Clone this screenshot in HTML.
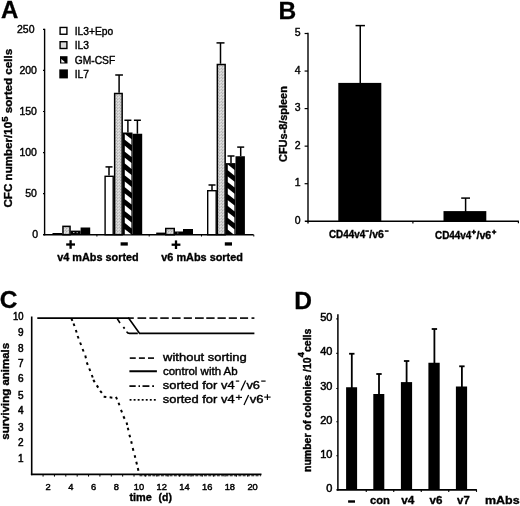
<!DOCTYPE html>
<html><head><meta charset="utf-8"><title>Figure</title>
<style>
html,body{margin:0;padding:0;background:#fff;}
body{width:520px;height:506px;overflow:hidden;font-family:"Liberation Sans",sans-serif;}
svg{display:block;filter:blur(0.4px);}
svg text{font-family:"Liberation Sans",sans-serif;fill:#000;}
</style></head><body>
<svg width="520" height="506" viewBox="0 0 520 506">
<defs>
<pattern id="dots" width="3" height="3" patternUnits="userSpaceOnUse">
<rect width="3" height="3" fill="#cfcfcf"/>
<rect width="1" height="1" fill="#b0b0b0"/>
<rect x="1" y="1" width="1" height="1" fill="#e4e4e4"/>
<rect x="2" y="2" width="1" height="1" fill="#b8b8b8"/>
<rect x="2" y="0" width="1" height="1" fill="#dcdcdc"/>
</pattern>
</defs>
<rect width="520" height="506" fill="#fff"/>
<g transform="translate(1.00,18.00) translate(0.00,0)" stroke="#000" stroke-width="0.3">
<text x="0.00" y="0" font-size="24" font-weight="bold" xml:space="preserve">A</text>
</g>
<line x1="44.60" y1="28.80" x2="44.60" y2="235.30" stroke="#000" stroke-width="1.4" />
<line x1="43.40" y1="234.70" x2="253.60" y2="234.70" stroke="#000" stroke-width="1.6" />
<line x1="43.00" y1="234.70" x2="44.60" y2="234.70" stroke="#000" stroke-width="1.2" />
<g transform="translate(38.00,238.00) translate(-5.84,0)" stroke="#000" stroke-width="0.4">
<text x="0.00" y="0" font-size="10.5" xml:space="preserve">0</text>
</g>
<line x1="43.00" y1="193.64" x2="44.60" y2="193.64" stroke="#000" stroke-width="1.2" />
<g transform="translate(36.90,196.94) translate(-11.68,0)" stroke="#000" stroke-width="0.4">
<text x="0.00" y="0" font-size="10.5" xml:space="preserve">50</text>
</g>
<line x1="43.00" y1="152.58" x2="44.60" y2="152.58" stroke="#000" stroke-width="1.2" />
<g transform="translate(36.90,155.88) translate(-17.52,0)" stroke="#000" stroke-width="0.4">
<text x="0.00" y="0" font-size="10.5" xml:space="preserve">100</text>
</g>
<line x1="43.00" y1="111.52" x2="44.60" y2="111.52" stroke="#000" stroke-width="1.2" />
<g transform="translate(36.90,114.82) translate(-17.52,0)" stroke="#000" stroke-width="0.4">
<text x="0.00" y="0" font-size="10.5" xml:space="preserve">150</text>
</g>
<line x1="43.00" y1="70.46" x2="44.60" y2="70.46" stroke="#000" stroke-width="1.2" />
<g transform="translate(36.90,73.76) translate(-17.52,0)" stroke="#000" stroke-width="0.4">
<text x="0.00" y="0" font-size="10.5" xml:space="preserve">200</text>
</g>
<line x1="43.00" y1="29.40" x2="44.60" y2="29.40" stroke="#000" stroke-width="1.2" />
<g transform="translate(34.50,32.70) translate(-17.52,0)" stroke="#000" stroke-width="0.4">
<text x="0.00" y="0" font-size="10.5" xml:space="preserve">250</text>
</g>
<line x1="96.90" y1="234.70" x2="96.90" y2="236.50" stroke="#000" stroke-width="1" />
<line x1="149.20" y1="234.70" x2="149.20" y2="236.50" stroke="#000" stroke-width="1" />
<line x1="201.50" y1="234.70" x2="201.50" y2="236.50" stroke="#000" stroke-width="1" />
<line x1="253.80" y1="234.70" x2="253.80" y2="236.50" stroke="#000" stroke-width="1" />
<g transform="translate(12.25,207.50) rotate(-90) translate(0.00,0) scale(1.0545,1)" stroke="#000" stroke-width="0.35">
<text x="0.00" y="0" font-size="11" font-weight="bold" xml:space="preserve">CFC number/10</text>
<text x="81.29" y="-4.5" font-size="9" font-weight="bold" xml:space="preserve">5</text>
<text x="86.30" y="0" font-size="11" font-weight="bold" xml:space="preserve"> sorted cells</text>
</g>
<rect x="60.10" y="27.45" width="6.80" height="6.80" fill="#fff" stroke="#000" stroke-width="1.4"/>
<g transform="translate(74.70,34.75) translate(0.00,0) scale(0.9350,1)" stroke="#000" stroke-width="0.4">
<text x="0.00" y="0" font-size="11" xml:space="preserve">IL3+Epo</text>
</g>
<rect x="60.10" y="41.70" width="6.80" height="6.80" fill="#dcdcdc" stroke="#000" stroke-width="1.4"/>
<g transform="translate(74.70,49.00) translate(0.00,0) scale(0.9350,1)" stroke="#000" stroke-width="0.4">
<text x="0.00" y="0" font-size="11" xml:space="preserve">IL3</text>
</g>
<rect x="60.00" y="56.20" width="7.50" height="7.30" fill="#000"/>
<polygon points="61.3,59.1 64.5,61.8 64.5,62.5 61.3,62.5" fill="#fff"/>
<g transform="translate(74.70,63.50) translate(0.00,0) scale(0.9350,1)" stroke="#000" stroke-width="0.4">
<text x="0.00" y="0" font-size="11" xml:space="preserve">GM-CSF</text>
</g>
<rect x="59.30" y="69.40" width="8.60" height="9.00" fill="#000"/>
<g transform="translate(74.70,77.90) translate(0.00,0) scale(0.9350,1)" stroke="#000" stroke-width="0.4">
<text x="0.00" y="0" font-size="11" xml:space="preserve">IL7</text>
</g>
<rect x="52.50" y="233.00" width="9.50" height="1.70" fill="#000"/>
<rect x="62.95" y="226.35" width="7.10" height="8.35" fill="url(#dots)" stroke="#000" stroke-width="1.5"/>
<rect x="70.60" y="230.60" width="10.00" height="4.10" fill="#000"/>
<rect x="73.00" y="232.00" width="1.50" height="1.00" fill="#aaa"/>
<rect x="76.50" y="232.30" width="1.50" height="0.80" fill="#bbb"/>
<rect x="80.60" y="227.50" width="9.60" height="7.20" fill="#000"/>
<line x1="109.00" y1="166.90" x2="109.00" y2="175.60" stroke="#000" stroke-width="1.5" />
<line x1="105.50" y1="166.90" x2="112.50" y2="166.90" stroke="#000" stroke-width="1.5" />
<rect x="105.10" y="176.30" width="8.10" height="58.40" fill="#fff" stroke="#000" stroke-width="1.4"/>
<line x1="119.10" y1="75.00" x2="119.10" y2="92.75" stroke="#000" stroke-width="1.5" />
<line x1="115.25" y1="75.00" x2="122.95" y2="75.00" stroke="#000" stroke-width="1.5" />
<rect x="114.65" y="93.50" width="7.50" height="141.20" fill="url(#dots)" stroke="#000" stroke-width="1.5"/>
<line x1="127.90" y1="120.25" x2="127.90" y2="132.50" stroke="#000" stroke-width="1.5" />
<line x1="124.40" y1="120.25" x2="131.40" y2="120.25" stroke="#000" stroke-width="1.5" />
<rect x="122.75" y="132.50" width="9.75" height="102.20" fill="#000"/>
<clipPath id="c1"><rect x="124.55" y="133.50" width="7.05" height="100.70"/></clipPath>
<g clip-path="url(#c1)" fill="#fff">
<polygon points="124.55,133.70 131.60,139.30 131.60,145.10 124.55,139.50"/>
<polygon points="124.55,145.60 131.60,151.20 131.60,157.00 124.55,151.40"/>
<polygon points="124.55,157.50 131.60,163.10 131.60,168.90 124.55,163.30"/>
<polygon points="124.55,169.40 131.60,175.00 131.60,180.80 124.55,175.20"/>
<polygon points="124.55,181.30 131.60,186.90 131.60,192.70 124.55,187.10"/>
<polygon points="124.55,193.20 131.60,198.80 131.60,204.60 124.55,199.00"/>
<polygon points="124.55,205.10 131.60,210.70 131.60,216.50 124.55,210.90"/>
<polygon points="124.55,217.00 131.60,222.60 131.60,228.40 124.55,222.80"/>
<polygon points="124.55,228.90 131.60,234.50 131.60,240.30 124.55,234.70"/>
</g>
<line x1="137.40" y1="120.25" x2="137.40" y2="133.75" stroke="#000" stroke-width="1.5" />
<line x1="133.90" y1="120.25" x2="140.90" y2="120.25" stroke="#000" stroke-width="1.5" />
<rect x="132.50" y="133.75" width="9.70" height="100.95" fill="#000"/>
<rect x="156.20" y="232.60" width="9.00" height="2.10" fill="#000"/>
<rect x="165.75" y="228.50" width="8.50" height="6.20" fill="url(#dots)" stroke="#000" stroke-width="1.5"/>
<rect x="175.00" y="231.50" width="8.00" height="3.20" fill="#000"/>
<rect x="177.00" y="232.60" width="1.50" height="0.80" fill="#aaa"/>
<rect x="183.00" y="229.00" width="10.00" height="5.70" fill="#000"/>
<line x1="212.00" y1="185.00" x2="212.00" y2="190.00" stroke="#000" stroke-width="1.5" />
<line x1="208.50" y1="185.00" x2="215.50" y2="185.00" stroke="#000" stroke-width="1.5" />
<rect x="207.70" y="190.70" width="8.50" height="44.00" fill="#fff" stroke="#000" stroke-width="1.4"/>
<line x1="220.50" y1="42.90" x2="220.50" y2="63.75" stroke="#000" stroke-width="1.5" />
<line x1="216.50" y1="42.90" x2="224.50" y2="42.90" stroke="#000" stroke-width="1.5" />
<rect x="217.35" y="64.50" width="7.80" height="170.20" fill="url(#dots)" stroke="#000" stroke-width="1.5"/>
<line x1="231.00" y1="156.00" x2="231.00" y2="163.10" stroke="#000" stroke-width="1.5" />
<line x1="227.50" y1="156.00" x2="234.50" y2="156.00" stroke="#000" stroke-width="1.5" />
<rect x="225.75" y="163.10" width="9.75" height="71.60" fill="#000"/>
<clipPath id="c2"><rect x="227.55" y="164.10" width="7.05" height="70.10"/></clipPath>
<g clip-path="url(#c2)" fill="#fff">
<polygon points="227.55,164.30 234.60,169.90 234.60,175.70 227.55,170.10"/>
<polygon points="227.55,176.20 234.60,181.80 234.60,187.60 227.55,182.00"/>
<polygon points="227.55,188.10 234.60,193.70 234.60,199.50 227.55,193.90"/>
<polygon points="227.55,200.00 234.60,205.60 234.60,211.40 227.55,205.80"/>
<polygon points="227.55,211.90 234.60,217.50 234.60,223.30 227.55,217.70"/>
<polygon points="227.55,223.80 234.60,229.40 234.60,235.20 227.55,229.60"/>
</g>
<line x1="240.70" y1="147.10" x2="240.70" y2="156.25" stroke="#000" stroke-width="1.5" />
<line x1="237.20" y1="147.10" x2="244.20" y2="147.10" stroke="#000" stroke-width="1.5" />
<rect x="235.50" y="156.25" width="9.40" height="78.45" fill="#000"/>
<line x1="66.20" y1="244.50" x2="75.00" y2="244.50" stroke="#000" stroke-width="2.3" />
<line x1="70.60" y1="240.20" x2="70.60" y2="248.80" stroke="#000" stroke-width="2.3" />
<line x1="171.60" y1="244.70" x2="180.40" y2="244.70" stroke="#000" stroke-width="2.3" />
<line x1="176.00" y1="240.40" x2="176.00" y2="249.00" stroke="#000" stroke-width="2.3" />
<rect x="120.60" y="242.30" width="7.20" height="3.30" fill="#000"/>
<rect x="224.80" y="242.30" width="7.20" height="3.30" fill="#000"/>
<g transform="translate(57.25,260.60) translate(0.00,0) scale(0.9876,1)" stroke="#000" stroke-width="0.35">
<text x="0.00" y="0" font-size="11" font-weight="bold" xml:space="preserve">v4 mAbs sorted</text>
</g>
<g transform="translate(161.25,260.60) translate(0.00,0) scale(0.9906,1)" stroke="#000" stroke-width="0.35">
<text x="0.00" y="0" font-size="11" font-weight="bold" xml:space="preserve">v6 mAbs sorted</text>
</g>
<g transform="translate(278.50,19.00) translate(0.00,0)" stroke="#000" stroke-width="0.3">
<text x="0.00" y="0" font-size="24.5" font-weight="bold" xml:space="preserve">B</text>
</g>
<line x1="308.00" y1="32.80" x2="308.00" y2="223.45" stroke="#000" stroke-width="1.4" />
<line x1="304.80" y1="221.25" x2="518.90" y2="221.25" stroke="#000" stroke-width="1.5" />
<g transform="translate(300.50,223.85) translate(-5.84,0)" stroke="#000" stroke-width="0.4">
<text x="0.00" y="0" font-size="10.5" xml:space="preserve">0</text>
</g>
<line x1="304.60" y1="183.70" x2="308.00" y2="183.70" stroke="#000" stroke-width="1.2" />
<g transform="translate(300.50,186.30) translate(-5.84,0)" stroke="#000" stroke-width="0.4">
<text x="0.00" y="0" font-size="10.5" xml:space="preserve">1</text>
</g>
<line x1="304.60" y1="146.15" x2="308.00" y2="146.15" stroke="#000" stroke-width="1.2" />
<g transform="translate(300.50,148.75) translate(-5.84,0)" stroke="#000" stroke-width="0.4">
<text x="0.00" y="0" font-size="10.5" xml:space="preserve">2</text>
</g>
<line x1="304.60" y1="108.60" x2="308.00" y2="108.60" stroke="#000" stroke-width="1.2" />
<g transform="translate(300.50,111.20) translate(-5.84,0)" stroke="#000" stroke-width="0.4">
<text x="0.00" y="0" font-size="10.5" xml:space="preserve">3</text>
</g>
<line x1="304.60" y1="71.05" x2="308.00" y2="71.05" stroke="#000" stroke-width="1.2" />
<g transform="translate(300.50,73.65) translate(-5.84,0)" stroke="#000" stroke-width="0.4">
<text x="0.00" y="0" font-size="10.5" xml:space="preserve">4</text>
</g>
<line x1="304.60" y1="33.50" x2="308.00" y2="33.50" stroke="#000" stroke-width="1.2" />
<g transform="translate(300.50,36.10) translate(-5.84,0)" stroke="#000" stroke-width="0.4">
<text x="0.00" y="0" font-size="10.5" xml:space="preserve">5</text>
</g>
<line x1="412.90" y1="221.25" x2="412.90" y2="223.55" stroke="#000" stroke-width="1.2" />
<line x1="518.40" y1="221.25" x2="518.40" y2="223.25" stroke="#000" stroke-width="1.2" />
<g transform="translate(287.30,161.90) rotate(-90) translate(0.00,0) scale(1.0698,1)" stroke="#000" stroke-width="0.35">
<text x="0.00" y="0" font-size="10.2" font-weight="bold" xml:space="preserve">CFUs-8/spleen</text>
</g>
<line x1="360.25" y1="25.60" x2="360.25" y2="84.00" stroke="#000" stroke-width="1.5" />
<line x1="355.55" y1="25.60" x2="364.95" y2="25.60" stroke="#000" stroke-width="1.5" />
<rect x="338.30" y="82.90" width="43.00" height="138.35" fill="#000"/>
<line x1="465.60" y1="198.10" x2="465.60" y2="212.00" stroke="#000" stroke-width="1.5" />
<line x1="461.20" y1="198.10" x2="470.00" y2="198.10" stroke="#000" stroke-width="1.5" />
<rect x="443.50" y="211.10" width="42.80" height="10.15" fill="#000"/>
<g transform="translate(329.00,238.20) translate(0.00,0) scale(0.9579,1)" stroke="#000" stroke-width="0.35">
<text x="0.00" y="0" font-size="10.3" font-weight="bold" xml:space="preserve">CD44v4</text>
</g>
<rect x="365.30" y="230.30" width="3.60" height="1.50" fill="#000"/>
<g transform="translate(369.30,238.20) translate(0.00,0) scale(1.0197,1)" stroke="#000" stroke-width="0.35">
<text x="0.00" y="0" font-size="10.3" font-weight="bold" xml:space="preserve">/v6</text>
</g>
<rect x="384.80" y="230.30" width="3.80" height="1.50" fill="#000"/>
<g transform="translate(435.00,238.50) translate(0.00,0) scale(0.9632,1)" stroke="#000" stroke-width="0.35">
<text x="0.00" y="0" font-size="10.3" font-weight="bold" xml:space="preserve">CD44v4</text>
</g>
<line x1="471.60" y1="232.00" x2="476.00" y2="232.00" stroke="#000" stroke-width="1.5" />
<line x1="473.80" y1="229.80" x2="473.80" y2="234.20" stroke="#000" stroke-width="1.5" />
<g transform="translate(476.50,238.50) translate(0.00,0) scale(1.0336,1)" stroke="#000" stroke-width="0.35">
<text x="0.00" y="0" font-size="10.3" font-weight="bold" xml:space="preserve">/v6</text>
</g>
<line x1="491.90" y1="232.00" x2="496.30" y2="232.00" stroke="#000" stroke-width="1.5" />
<line x1="494.10" y1="229.80" x2="494.10" y2="234.20" stroke="#000" stroke-width="1.5" />
<g transform="translate(-0.20,308.40) translate(0.00,0)" stroke="#000" stroke-width="0.3">
<text x="0.00" y="0" font-size="24.5" font-weight="bold" xml:space="preserve">C</text>
</g>
<line x1="31.70" y1="316.50" x2="31.70" y2="475.20" stroke="#000" stroke-width="1.6" />
<line x1="30.90" y1="474.40" x2="261.50" y2="474.40" stroke="#000" stroke-width="1.8" />
<g transform="translate(23.50,320.20) translate(-10.57,0) scale(0.9500,1)" stroke="#000" stroke-width="0.5">
<text x="0.00" y="0" font-size="10" xml:space="preserve">10</text>
</g>
<g transform="translate(23.50,335.60) translate(-5.56,0)" stroke="#000" stroke-width="0.5">
<text x="0.00" y="0" font-size="10" xml:space="preserve">9</text>
</g>
<g transform="translate(23.50,351.90) translate(-5.56,0)" stroke="#000" stroke-width="0.5">
<text x="0.00" y="0" font-size="10" xml:space="preserve">8</text>
</g>
<g transform="translate(23.50,367.20) translate(-5.56,0)" stroke="#000" stroke-width="0.5">
<text x="0.00" y="0" font-size="10" xml:space="preserve">7</text>
</g>
<g transform="translate(23.50,381.90) translate(-5.56,0)" stroke="#000" stroke-width="0.5">
<text x="0.00" y="0" font-size="10" xml:space="preserve">6</text>
</g>
<g transform="translate(23.50,399.00) translate(-5.56,0)" stroke="#000" stroke-width="0.5">
<text x="0.00" y="0" font-size="10" xml:space="preserve">5</text>
</g>
<g transform="translate(23.50,414.00) translate(-5.56,0)" stroke="#000" stroke-width="0.5">
<text x="0.00" y="0" font-size="10" xml:space="preserve">4</text>
</g>
<g transform="translate(23.50,430.50) translate(-5.56,0)" stroke="#000" stroke-width="0.5">
<text x="0.00" y="0" font-size="10" xml:space="preserve">3</text>
</g>
<g transform="translate(23.50,445.60) translate(-5.56,0)" stroke="#000" stroke-width="0.5">
<text x="0.00" y="0" font-size="10" xml:space="preserve">2</text>
</g>
<g transform="translate(23.50,462.20) translate(-5.56,0)" stroke="#000" stroke-width="0.5">
<text x="0.00" y="0" font-size="10" xml:space="preserve">1</text>
</g>
<line x1="43.07" y1="474.40" x2="43.07" y2="476.60" stroke="#000" stroke-width="1" />
<line x1="54.44" y1="474.40" x2="54.44" y2="476.60" stroke="#000" stroke-width="1" />
<line x1="65.81" y1="474.40" x2="65.81" y2="476.60" stroke="#000" stroke-width="1" />
<line x1="77.18" y1="474.40" x2="77.18" y2="476.60" stroke="#000" stroke-width="1" />
<line x1="88.55" y1="474.40" x2="88.55" y2="476.60" stroke="#000" stroke-width="1" />
<line x1="99.92" y1="474.40" x2="99.92" y2="476.60" stroke="#000" stroke-width="1" />
<line x1="111.29" y1="474.40" x2="111.29" y2="476.60" stroke="#000" stroke-width="1" />
<line x1="122.66" y1="474.40" x2="122.66" y2="476.60" stroke="#000" stroke-width="1" />
<line x1="134.03" y1="474.40" x2="134.03" y2="476.60" stroke="#000" stroke-width="1" />
<line x1="145.40" y1="474.40" x2="145.40" y2="476.60" stroke="#000" stroke-width="1" />
<line x1="156.77" y1="474.40" x2="156.77" y2="476.60" stroke="#000" stroke-width="1" />
<line x1="168.14" y1="474.40" x2="168.14" y2="476.60" stroke="#000" stroke-width="1" />
<line x1="179.51" y1="474.40" x2="179.51" y2="476.60" stroke="#000" stroke-width="1" />
<line x1="190.88" y1="474.40" x2="190.88" y2="476.60" stroke="#000" stroke-width="1" />
<line x1="202.25" y1="474.40" x2="202.25" y2="476.60" stroke="#000" stroke-width="1" />
<line x1="213.62" y1="474.40" x2="213.62" y2="476.60" stroke="#000" stroke-width="1" />
<line x1="224.99" y1="474.40" x2="224.99" y2="476.60" stroke="#000" stroke-width="1" />
<line x1="236.36" y1="474.40" x2="236.36" y2="476.60" stroke="#000" stroke-width="1" />
<line x1="247.73" y1="474.40" x2="247.73" y2="476.60" stroke="#000" stroke-width="1" />
<g transform="translate(48.10,490.00) translate(-2.59,0)" stroke="#000" stroke-width="0.45">
<text x="0.00" y="0" font-size="9.3" xml:space="preserve">2</text>
</g>
<g transform="translate(70.82,490.00) translate(-2.59,0)" stroke="#000" stroke-width="0.45">
<text x="0.00" y="0" font-size="9.3" xml:space="preserve">4</text>
</g>
<g transform="translate(93.54,490.00) translate(-2.59,0)" stroke="#000" stroke-width="0.45">
<text x="0.00" y="0" font-size="9.3" xml:space="preserve">6</text>
</g>
<g transform="translate(116.26,490.00) translate(-2.59,0)" stroke="#000" stroke-width="0.45">
<text x="0.00" y="0" font-size="9.3" xml:space="preserve">8</text>
</g>
<g transform="translate(138.98,490.00) translate(-5.17,0)" stroke="#000" stroke-width="0.45">
<text x="0.00" y="0" font-size="9.3" xml:space="preserve">10</text>
</g>
<g transform="translate(161.70,490.00) translate(-5.17,0)" stroke="#000" stroke-width="0.45">
<text x="0.00" y="0" font-size="9.3" xml:space="preserve">12</text>
</g>
<g transform="translate(184.42,490.00) translate(-5.17,0)" stroke="#000" stroke-width="0.45">
<text x="0.00" y="0" font-size="9.3" xml:space="preserve">14</text>
</g>
<g transform="translate(207.14,490.00) translate(-5.17,0)" stroke="#000" stroke-width="0.45">
<text x="0.00" y="0" font-size="9.3" xml:space="preserve">16</text>
</g>
<g transform="translate(229.86,490.00) translate(-5.17,0)" stroke="#000" stroke-width="0.45">
<text x="0.00" y="0" font-size="9.3" xml:space="preserve">18</text>
</g>
<g transform="translate(252.58,490.00) translate(-5.17,0)" stroke="#000" stroke-width="0.45">
<text x="0.00" y="0" font-size="9.3" xml:space="preserve">20</text>
</g>
<g transform="translate(129.40,501.10) translate(0.00,0) scale(0.9948,1)" stroke="#000" stroke-width="0.35">
<text x="0.00" y="0" font-size="11" font-weight="bold" xml:space="preserve">time</text>
</g>
<g transform="translate(158.50,501.10) translate(0.00,0) scale(0.9540,1)" stroke="#000" stroke-width="0.35">
<text x="0.00" y="0" font-size="11" font-weight="bold" xml:space="preserve">(d)</text>
</g>
<g transform="translate(9.40,439.75) rotate(-90) translate(0.00,0) scale(1.1482,1)" stroke="#000" stroke-width="0.35">
<text x="0.00" y="0" font-size="10" font-weight="bold" xml:space="preserve">surviving animals</text>
</g>
<path d="M37.3,318.1 L128.6,318.1 L139.6,333.4 L254.4,333.4" fill="none" stroke="#000" stroke-width="1.7" stroke-linejoin="miter"/>
<path d="M128,318.1 L133.8,318.1" stroke="#000" stroke-width="1.6"/>
<line x1="137.50" y1="318.10" x2="146.20" y2="318.10" stroke="#000" stroke-width="1.6" />
<line x1="149.40" y1="318.10" x2="157.50" y2="318.10" stroke="#000" stroke-width="1.6" />
<line x1="160.25" y1="318.10" x2="168.75" y2="318.10" stroke="#000" stroke-width="1.6" />
<line x1="171.90" y1="318.10" x2="180.60" y2="318.10" stroke="#000" stroke-width="1.6" />
<line x1="183.75" y1="318.10" x2="191.90" y2="318.10" stroke="#000" stroke-width="1.6" />
<line x1="195.00" y1="318.10" x2="203.75" y2="318.10" stroke="#000" stroke-width="1.6" />
<line x1="206.25" y1="318.10" x2="214.60" y2="318.10" stroke="#000" stroke-width="1.6" />
<line x1="217.50" y1="318.10" x2="225.80" y2="318.10" stroke="#000" stroke-width="1.6" />
<line x1="228.75" y1="318.10" x2="236.90" y2="318.10" stroke="#000" stroke-width="1.6" />
<line x1="240.00" y1="318.10" x2="248.10" y2="318.10" stroke="#000" stroke-width="1.6" />
<line x1="251.50" y1="318.10" x2="254.40" y2="318.10" stroke="#000" stroke-width="1.6" />
<line x1="116.90" y1="318.10" x2="120.00" y2="323.00" stroke="#000" stroke-width="1.6" />
<line x1="123.40" y1="327.00" x2="124.60" y2="328.60" stroke="#000" stroke-width="1.8" />
<path d="M126.6,331.6 Q127.6,333.4 129.5,333.4 L137.8,333.4" fill="none" stroke="#000" stroke-width="1.6"/>
<rect x="-1.35" y="-1" width="2.7" height="2" fill="#000" transform="translate(71.9,319.6) rotate(67.8)"/>
<rect x="-1.35" y="-1" width="2.7" height="2" fill="#000" transform="translate(74,324.75) rotate(70.9)"/>
<rect x="-1.35" y="-1" width="2.7" height="2" fill="#000" transform="translate(76.25,331.25) rotate(72.9)"/>
<rect x="-1.35" y="-1" width="2.7" height="2" fill="#000" transform="translate(78.1,337.25) rotate(69.0)"/>
<rect x="-1.35" y="-1" width="2.7" height="2" fill="#000" transform="translate(80.6,343.75) rotate(69.0)"/>
<rect x="-1.35" y="-1" width="2.7" height="2" fill="#000" transform="translate(83.1,350.25) rotate(69.4)"/>
<rect x="-1.35" y="-1" width="2.7" height="2" fill="#000" transform="translate(85.6,356.9) rotate(76.2)"/>
<rect x="-1.35" y="-1" width="2.7" height="2" fill="#000" transform="translate(87.25,363.6) rotate(67.9)"/>
<rect x="-1.35" y="-1" width="2.7" height="2" fill="#000" transform="translate(89.75,369.75) rotate(69.0)"/>
<rect x="-1.35" y="-1" width="2.7" height="2" fill="#000" transform="translate(92.25,376.25) rotate(69.8)"/>
<rect x="-1.35" y="-1" width="2.7" height="2" fill="#000" transform="translate(94,381) rotate(57.5)"/>
<rect x="-1.35" y="-1" width="2.7" height="2" fill="#000" transform="translate(97.5,386.5) rotate(57.1)"/>
<rect x="-1.35" y="-1" width="2.7" height="2" fill="#000" transform="translate(101,391.9) rotate(51.3)"/>
<rect x="-1.35" y="-1" width="2.7" height="2" fill="#000" transform="translate(105,396.9) rotate(5.7)"/>
<rect x="-1.35" y="-1" width="2.7" height="2" fill="#000" transform="translate(111,397.5) rotate(6.2)"/>
<rect x="-1.35" y="-1" width="2.7" height="2" fill="#000" transform="translate(116.5,398.1) rotate(67.0)"/>
<rect x="-1.35" y="-1" width="2.7" height="2" fill="#000" transform="translate(119,404) rotate(70.6)"/>
<rect x="-1.35" y="-1" width="2.7" height="2" fill="#000" transform="translate(121.5,411.1) rotate(68.7)"/>
<rect x="-1.35" y="-1" width="2.7" height="2" fill="#000" transform="translate(124,417.5) rotate(65.1)"/>
<rect x="-1.35" y="-1" width="2.7" height="2" fill="#000" transform="translate(126.9,423.75) rotate(77.1)"/>
<rect x="-1.35" y="-1" width="2.7" height="2" fill="#000" transform="translate(128.1,429) rotate(76.7)"/>
<rect x="-1.35" y="-1" width="2.7" height="2" fill="#000" transform="translate(129.75,436) rotate(74.9)"/>
<rect x="-1.35" y="-1" width="2.7" height="2" fill="#000" transform="translate(131.5,442.5) rotate(76.9)"/>
<rect x="-1.35" y="-1" width="2.7" height="2" fill="#000" transform="translate(133.1,449.4) rotate(75.0)"/>
<rect x="-1.35" y="-1" width="2.7" height="2" fill="#000" transform="translate(135,456.5) rotate(76.4)"/>
<rect x="-1.35" y="-1" width="2.7" height="2" fill="#000" transform="translate(136.6,463.1) rotate(76.6)"/>
<rect x="-1.35" y="-1" width="2.7" height="2" fill="#000" transform="translate(138.1,469.4) rotate(76.6)"/>
<line x1="139.5" y1="475.7" x2="261" y2="475.7" stroke="#111" stroke-width="1.1" stroke-dasharray="2.9 1.4"/>
<line x1="129.75" y1="358.10" x2="135.75" y2="358.10" stroke="#000" stroke-width="1.6" />
<line x1="138.90" y1="358.10" x2="144.90" y2="358.10" stroke="#000" stroke-width="1.6" />
<line x1="148.00" y1="358.10" x2="154.00" y2="358.10" stroke="#000" stroke-width="1.6" />
<line x1="129.40" y1="371.25" x2="156.90" y2="371.25" stroke="#000" stroke-width="2" />
<line x1="129.40" y1="386.10" x2="135.70" y2="386.10" stroke="#000" stroke-width="1.7" />
<line x1="138.50" y1="386.10" x2="140.00" y2="386.10" stroke="#000" stroke-width="1.7" />
<line x1="142.50" y1="386.10" x2="149.40" y2="386.10" stroke="#000" stroke-width="1.7" />
<line x1="152.20" y1="386.10" x2="154.00" y2="386.10" stroke="#000" stroke-width="1.7" />
<rect x="129.60" y="399.00" width="1.90" height="1.70" fill="#000"/>
<rect x="133.64" y="399.00" width="1.90" height="1.70" fill="#000"/>
<rect x="137.68" y="399.00" width="1.90" height="1.70" fill="#000"/>
<rect x="141.72" y="399.00" width="1.90" height="1.70" fill="#000"/>
<rect x="145.76" y="399.00" width="1.90" height="1.70" fill="#000"/>
<rect x="149.80" y="399.00" width="1.90" height="1.70" fill="#000"/>
<rect x="153.84" y="399.00" width="1.90" height="1.70" fill="#000"/>
<g transform="translate(163.10,361.25) translate(0.00,0) scale(1.1815,1)" stroke="#000" stroke-width="0.4">
<text x="0.00" y="0" font-size="11" xml:space="preserve">without sorting</text>
</g>
<g transform="translate(162.90,375.00) translate(0.00,0) scale(1.0456,1)" stroke="#000" stroke-width="0.4">
<text x="0.00" y="0" font-size="11" xml:space="preserve">control with Ab</text>
</g>
<g transform="translate(162.75,388.80) translate(0.00,0) scale(1.1752,1)" stroke="#000" stroke-width="0.4">
<text x="0.00" y="0" font-size="11" xml:space="preserve">sorted for v4</text>
</g>
<rect x="235.80" y="380.50" width="3.40" height="1.20" fill="#000"/>
<line x1="241.00" y1="390.60" x2="245.60" y2="380.60" stroke="#000" stroke-width="1.25" />
<g transform="translate(246.40,388.80) translate(0.00,0) scale(1.1620,1)" stroke="#000" stroke-width="0.4">
<text x="0.00" y="0" font-size="11" xml:space="preserve">v6</text>
</g>
<rect x="261.20" y="380.50" width="4.40" height="1.20" fill="#000"/>
<g transform="translate(162.75,403.30) translate(0.00,0) scale(1.1752,1)" stroke="#000" stroke-width="0.4">
<text x="0.00" y="0" font-size="11" xml:space="preserve">sorted for v4</text>
</g>
<line x1="235.80" y1="397.40" x2="242.00" y2="397.40" stroke="#000" stroke-width="1.15" />
<line x1="238.90" y1="394.70" x2="238.90" y2="400.10" stroke="#000" stroke-width="1.15" />
<line x1="244.00" y1="405.10" x2="248.60" y2="395.10" stroke="#000" stroke-width="1.25" />
<g transform="translate(249.70,403.30) translate(0.00,0) scale(1.1878,1)" stroke="#000" stroke-width="0.4">
<text x="0.00" y="0" font-size="11" xml:space="preserve">v6</text>
</g>
<line x1="264.20" y1="397.10" x2="270.60" y2="397.10" stroke="#000" stroke-width="1.15" />
<line x1="267.40" y1="394.20" x2="267.40" y2="400.00" stroke="#000" stroke-width="1.15" />
<g transform="translate(294.30,308.60) translate(0.00,0)" stroke="#000" stroke-width="0.3">
<text x="0.00" y="0" font-size="24.5" font-weight="bold" xml:space="preserve">D</text>
</g>
<line x1="337.90" y1="314.30" x2="337.90" y2="490.60" stroke="#000" stroke-width="1.5" />
<line x1="337.20" y1="489.90" x2="476.90" y2="489.90" stroke="#000" stroke-width="1.6" />
<line x1="336.30" y1="318.90" x2="337.90" y2="318.90" stroke="#000" stroke-width="1.1" />
<g transform="translate(332.40,320.80) translate(-12.24,0)" stroke="#000" stroke-width="0.5">
<text x="0.00" y="0" font-size="11" xml:space="preserve">50</text>
</g>
<line x1="336.30" y1="353.40" x2="337.90" y2="353.40" stroke="#000" stroke-width="1.1" />
<g transform="translate(332.40,355.30) translate(-12.24,0)" stroke="#000" stroke-width="0.5">
<text x="0.00" y="0" font-size="11" xml:space="preserve">40</text>
</g>
<line x1="336.30" y1="388.50" x2="337.90" y2="388.50" stroke="#000" stroke-width="1.1" />
<g transform="translate(332.40,390.40) translate(-12.24,0)" stroke="#000" stroke-width="0.5">
<text x="0.00" y="0" font-size="11" xml:space="preserve">30</text>
</g>
<line x1="336.30" y1="421.75" x2="337.90" y2="421.75" stroke="#000" stroke-width="1.1" />
<g transform="translate(332.40,423.65) translate(-12.24,0)" stroke="#000" stroke-width="0.5">
<text x="0.00" y="0" font-size="11" xml:space="preserve">20</text>
</g>
<line x1="336.30" y1="455.75" x2="337.90" y2="455.75" stroke="#000" stroke-width="1.1" />
<g transform="translate(332.40,457.65) translate(-12.24,0)" stroke="#000" stroke-width="0.5">
<text x="0.00" y="0" font-size="11" xml:space="preserve">10</text>
</g>
<line x1="336.30" y1="489.90" x2="337.90" y2="489.90" stroke="#000" stroke-width="1.1" />
<g transform="translate(332.40,491.80) translate(-6.12,0)" stroke="#000" stroke-width="0.5">
<text x="0.00" y="0" font-size="11" xml:space="preserve">0</text>
</g>
<line x1="366.25" y1="489.90" x2="366.25" y2="491.90" stroke="#000" stroke-width="1.1" />
<line x1="393.75" y1="489.90" x2="393.75" y2="491.90" stroke="#000" stroke-width="1.1" />
<line x1="421.25" y1="489.90" x2="421.25" y2="491.90" stroke="#000" stroke-width="1.1" />
<line x1="448.75" y1="489.90" x2="448.75" y2="491.90" stroke="#000" stroke-width="1.1" />
<line x1="476.50" y1="489.90" x2="476.50" y2="491.90" stroke="#000" stroke-width="1.1" />
<line x1="351.80" y1="353.75" x2="351.80" y2="388.25" stroke="#000" stroke-width="1.8" />
<line x1="349.10" y1="353.75" x2="354.50" y2="353.75" stroke="#000" stroke-width="1.8" />
<rect x="346.10" y="387.25" width="11.00" height="102.65" fill="#000"/>
<line x1="379.00" y1="374.00" x2="379.00" y2="395.00" stroke="#000" stroke-width="1.8" />
<line x1="376.30" y1="374.00" x2="381.70" y2="374.00" stroke="#000" stroke-width="1.8" />
<rect x="373.30" y="394.00" width="11.00" height="95.90" fill="#000"/>
<line x1="406.60" y1="361.00" x2="406.60" y2="383.10" stroke="#000" stroke-width="1.8" />
<line x1="403.90" y1="361.00" x2="409.30" y2="361.00" stroke="#000" stroke-width="1.8" />
<rect x="400.90" y="382.10" width="11.20" height="107.80" fill="#000"/>
<line x1="434.40" y1="329.00" x2="434.40" y2="363.75" stroke="#000" stroke-width="1.8" />
<line x1="431.70" y1="329.00" x2="437.10" y2="329.00" stroke="#000" stroke-width="1.8" />
<rect x="428.40" y="362.75" width="11.30" height="127.15" fill="#000"/>
<line x1="461.90" y1="366.30" x2="461.90" y2="387.50" stroke="#000" stroke-width="1.8" />
<line x1="459.20" y1="366.30" x2="464.60" y2="366.30" stroke="#000" stroke-width="1.8" />
<rect x="455.90" y="386.50" width="11.20" height="103.40" fill="#000"/>
<rect x="348.10" y="500.30" width="6.90" height="2.40" fill="#000"/>
<g transform="translate(370.00,504.25) translate(0.00,0) scale(0.9534,1)" stroke="#000" stroke-width="0.35">
<text x="0.00" y="0" font-size="11.8" font-weight="bold" xml:space="preserve">con</text>
</g>
<g transform="translate(401.30,504.25) translate(0.00,0) scale(1.0241,1)" stroke="#000" stroke-width="0.35">
<text x="0.00" y="0" font-size="11.5" font-weight="bold" xml:space="preserve">v4</text>
</g>
<g transform="translate(429.60,504.25) translate(0.00,0) scale(1.0085,1)" stroke="#000" stroke-width="0.35">
<text x="0.00" y="0" font-size="11.5" font-weight="bold" xml:space="preserve">v6</text>
</g>
<g transform="translate(457.10,504.25) translate(0.00,0) scale(0.9928,1)" stroke="#000" stroke-width="0.35">
<text x="0.00" y="0" font-size="11.5" font-weight="bold" xml:space="preserve">v7</text>
</g>
<g transform="translate(485.00,504.25) translate(0.00,0) scale(1.0829,1)" stroke="#000" stroke-width="0.35">
<text x="0.00" y="0" font-size="11.5" font-weight="bold" xml:space="preserve">mAbs</text>
</g>
<g transform="translate(310.60,472.00) rotate(-90) translate(0.00,0) scale(1.0216,1)" stroke="#000" stroke-width="0.4">
<text x="0.00" y="0" font-size="10.3" font-weight="bold" xml:space="preserve">number of colonies</text>
<text x="95.00" y="0" font-size="10.3" font-weight="bold" xml:space="preserve"> /</text>
<text x="100.72" y="0" font-size="10.3" font-weight="bold" xml:space="preserve">10</text>
<text x="112.18" y="-6.5" font-size="9.5" font-weight="bold" xml:space="preserve">4</text>
<text x="117.46" y="0" font-size="10.3" font-weight="bold" xml:space="preserve">cells</text>
</g>
</svg>
</body></html>
